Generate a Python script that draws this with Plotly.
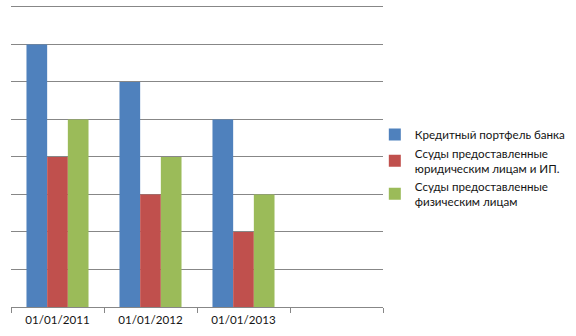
import plotly.graph_objects as go

categories = ["01/01/2011", "01/01/2012", "01/01/2013", " "]
credit_portfolio = [7, 6, 5, None]
legal_loans = [4, 3, 2, None]
individual_loans = [5, 4, 3, None]

series_names = [
    "Кредитный портфель банка",
    "Ссуды предоставленные<br>юридическим лицам и ИП.",
    "Ссуды предоставленные<br>физическим лицам",
]
colors = ["#4F81BD", "#C0504D", "#9BBB59"]

fig = go.Figure()
for name, vals, col in zip(series_names, [credit_portfolio, legal_loans, individual_loans], colors):
    fig.add_trace(go.Bar(x=categories, y=vals, name=name, marker=dict(color=col, line=dict(width=0))))

fig.update_layout(
    width=576, height=336,
    margin=dict(l=11, r=193, t=5, b=29),
    paper_bgcolor="white", plot_bgcolor="white",
    barmode="group", bargap=0.333, bargroupgap=0,
    font=dict(family="Lato, Carlito, sans-serif", size=11.6, color="#141414"),
    legend=dict(x=0.978, xanchor="left", y=0.46, yanchor="middle",
                font=dict(size=11.6, color="#141414"), tracegroupgap=3,
                itemwidth=30, bgcolor="rgba(0,0,0,0)"),
    showlegend=True,
)
fig.update_xaxes(
    type="category", categoryorder="array", categoryarray=categories,
    range=[-0.5, 3.5], tickson="boundaries", ticks="outside", ticklen=5,
    tickcolor="#878787", showline=True, linecolor="#878787", linewidth=1,
    showgrid=False, tickfont=dict(size=11.6, color="#141414"),
    ticklabelstandoff=2,
)
fig.update_yaxes(
    range=[0, 8.05], dtick=1, showticklabels=False, showgrid=True,
    gridcolor="#878787", gridwidth=1, zeroline=False, showline=False, ticks="",
)

fig.write_html("out.html")
